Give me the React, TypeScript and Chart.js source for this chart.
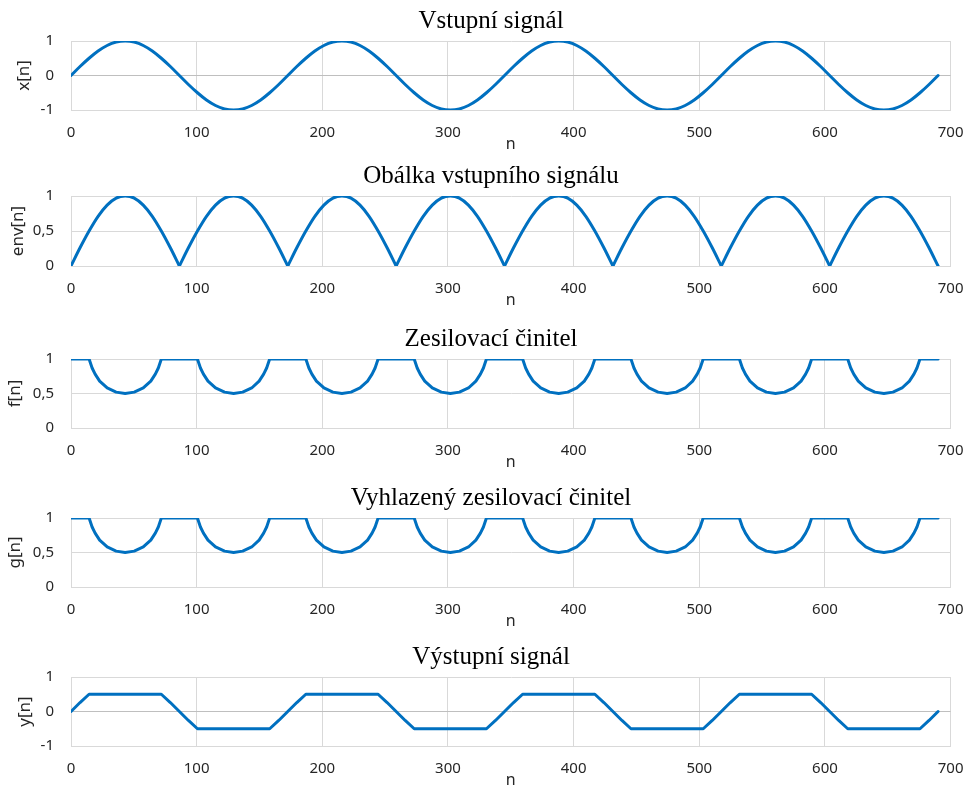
import React, { useEffect, useRef } from 'react';
import { Chart, registerables } from 'chart.js';

Chart.register(...registerables);

// sample positions (n) for x[n], env[n], y[n]
const nGrid = [
  0, 7.19, 14.38, 21.56, 28.75, 35.94, 43.13, 50.31, 57.5, 64.69, 71.88, 79.06,
  86.25, 93.44, 100.63, 107.81, 115, 122.19, 129.38, 136.56, 143.75, 150.94, 158.13, 165.31,
  172.5, 179.69, 186.88, 194.06, 201.25, 208.44, 215.63, 222.81, 230, 237.19, 244.38, 251.56,
  258.75, 265.94, 273.13, 280.31, 287.5, 294.69, 301.88, 309.06, 316.25, 323.44, 330.63, 337.81,
  345, 352.19, 359.38, 366.56, 373.75, 380.94, 388.13, 395.31, 402.5, 409.69, 416.88, 424.06,
  431.25, 438.44, 445.63, 452.81, 460, 467.19, 474.38, 481.56, 488.75, 495.94, 503.13, 510.31,
  517.5, 524.69, 531.88, 539.06, 546.25, 553.44, 560.63, 567.81, 575, 582.19, 589.38, 596.56,
  603.75, 610.94, 618.13, 625.31, 632.5, 639.69, 646.88, 654.06, 661.25, 668.44, 675.63, 682.81,
  690,
];

const xVals = [
  0, 0.26, 0.5, 0.71, 0.87, 0.97, 1, 0.97, 0.87, 0.71, 0.5, 0.26,
  0, -0.26, -0.5, -0.71, -0.87, -0.97, -1, -0.97, -0.87, -0.71, -0.5, -0.26,
  0, 0.26, 0.5, 0.71, 0.87, 0.97, 1, 0.97, 0.87, 0.71, 0.5, 0.26,
  0, -0.26, -0.5, -0.71, -0.87, -0.97, -1, -0.97, -0.87, -0.71, -0.5, -0.26,
  0, 0.26, 0.5, 0.71, 0.87, 0.97, 1, 0.97, 0.87, 0.71, 0.5, 0.26,
  0, -0.26, -0.5, -0.71, -0.87, -0.97, -1, -0.97, -0.87, -0.71, -0.5, -0.26,
  0, 0.26, 0.5, 0.71, 0.87, 0.97, 1, 0.97, 0.87, 0.71, 0.5, 0.26,
  0, -0.26, -0.5, -0.71, -0.87, -0.97, -1, -0.97, -0.87, -0.71, -0.5, -0.26,
  0,
];

const envVals = [
  0, 0.26, 0.5, 0.71, 0.87, 0.97, 1, 0.97, 0.87, 0.71, 0.5, 0.26,
  0, 0.26, 0.5, 0.71, 0.87, 0.97, 1, 0.97, 0.87, 0.71, 0.5, 0.26,
  0, 0.26, 0.5, 0.71, 0.87, 0.97, 1, 0.97, 0.87, 0.71, 0.5, 0.26,
  0, 0.26, 0.5, 0.71, 0.87, 0.97, 1, 0.97, 0.87, 0.71, 0.5, 0.26,
  0, 0.26, 0.5, 0.71, 0.87, 0.97, 1, 0.97, 0.87, 0.71, 0.5, 0.26,
  0, 0.26, 0.5, 0.71, 0.87, 0.97, 1, 0.97, 0.87, 0.71, 0.5, 0.26,
  0, 0.26, 0.5, 0.71, 0.87, 0.97, 1, 0.97, 0.87, 0.71, 0.5, 0.26,
  0, 0.26, 0.5, 0.71, 0.87, 0.97, 1, 0.97, 0.87, 0.71, 0.5, 0.26,
  0,
];

const yVals = [
  0, 0.26, 0.5, 0.5, 0.5, 0.5, 0.5, 0.5, 0.5, 0.5, 0.5, 0.26,
  0, -0.26, -0.5, -0.5, -0.5, -0.5, -0.5, -0.5, -0.5, -0.5, -0.5, -0.26,
  0, 0.26, 0.5, 0.5, 0.5, 0.5, 0.5, 0.5, 0.5, 0.5, 0.5, 0.26,
  0, -0.26, -0.5, -0.5, -0.5, -0.5, -0.5, -0.5, -0.5, -0.5, -0.5, -0.26,
  0, 0.26, 0.5, 0.5, 0.5, 0.5, 0.5, 0.5, 0.5, 0.5, 0.5, 0.26,
  0, -0.26, -0.5, -0.5, -0.5, -0.5, -0.5, -0.5, -0.5, -0.5, -0.5, -0.26,
  0, 0.26, 0.5, 0.5, 0.5, 0.5, 0.5, 0.5, 0.5, 0.5, 0.5, 0.26,
  0, -0.26, -0.5, -0.5, -0.5, -0.5, -0.5, -0.5, -0.5, -0.5, -0.5, -0.26,
  0,
];

// sample positions (n) for the gain curves f[n], g[n]
const nGain = [
  0,
  14.4, 16.8, 19.2, 22.8, 28.8, 35.9, 43.1, 50.3, 57.5, 63.5, 67.1, 69.5, 71.9,
  100.6, 103.0, 105.4, 109.0, 115.0, 122.2, 129.4, 136.6, 143.8, 149.7, 153.3, 155.7, 158.1,
  186.9, 189.3, 191.7, 195.3, 201.3, 208.4, 215.6, 222.8, 230.0, 236.0, 239.6, 242.0, 244.4,
  273.1, 275.5, 277.9, 281.5, 287.5, 294.7, 301.9, 309.1, 316.3, 322.2, 325.8, 328.2, 330.6,
  359.4, 361.8, 364.2, 367.8, 373.8, 380.9, 388.1, 395.3, 402.5, 408.5, 412.1, 414.5, 416.9,
  445.6, 448.0, 450.4, 454.0, 460.0, 467.2, 474.4, 481.6, 488.8, 494.7, 498.3, 500.7, 503.1,
  531.9, 534.3, 536.7, 540.3, 546.3, 553.4, 560.6, 567.8, 575.0, 581.0, 584.6, 587.0, 589.4,
  618.1, 620.5, 622.9, 626.5, 632.5, 639.7, 646.9, 654.1, 661.3, 667.2, 670.8, 673.2, 675.6,
  690,
];

const fVals = [
  1,
  1, 0.87, 0.78, 0.68, 0.58, 0.52, 0.5, 0.52, 0.58, 0.68, 0.78, 0.87, 1,
  1, 0.87, 0.78, 0.68, 0.58, 0.52, 0.5, 0.52, 0.58, 0.68, 0.78, 0.87, 1,
  1, 0.87, 0.78, 0.68, 0.58, 0.52, 0.5, 0.52, 0.58, 0.68, 0.78, 0.87, 1,
  1, 0.87, 0.78, 0.68, 0.58, 0.52, 0.5, 0.52, 0.58, 0.68, 0.78, 0.87, 1,
  1, 0.87, 0.78, 0.68, 0.58, 0.52, 0.5, 0.52, 0.58, 0.68, 0.78, 0.87, 1,
  1, 0.87, 0.78, 0.68, 0.58, 0.52, 0.5, 0.52, 0.58, 0.68, 0.78, 0.87, 1,
  1, 0.87, 0.78, 0.68, 0.58, 0.52, 0.5, 0.52, 0.58, 0.68, 0.78, 0.87, 1,
  1, 0.87, 0.78, 0.68, 0.58, 0.52, 0.5, 0.52, 0.58, 0.68, 0.78, 0.87, 1,
  1,
];

const gVals = [
  1,
  1, 0.87, 0.78, 0.68, 0.58, 0.52, 0.5, 0.52, 0.58, 0.68, 0.78, 0.87, 1,
  1, 0.87, 0.78, 0.68, 0.58, 0.52, 0.5, 0.52, 0.58, 0.68, 0.78, 0.87, 1,
  1, 0.87, 0.78, 0.68, 0.58, 0.52, 0.5, 0.52, 0.58, 0.68, 0.78, 0.87, 1,
  1, 0.87, 0.78, 0.68, 0.58, 0.52, 0.5, 0.52, 0.58, 0.68, 0.78, 0.87, 1,
  1, 0.87, 0.78, 0.68, 0.58, 0.52, 0.5, 0.52, 0.58, 0.68, 0.78, 0.87, 1,
  1, 0.87, 0.78, 0.68, 0.58, 0.52, 0.5, 0.52, 0.58, 0.68, 0.78, 0.87, 1,
  1, 0.87, 0.78, 0.68, 0.58, 0.52, 0.5, 0.52, 0.58, 0.68, 0.78, 0.87, 1,
  1, 0.87, 0.78, 0.68, 0.58, 0.52, 0.5, 0.52, 0.58, 0.68, 0.78, 0.87, 1,
  1,
];

const xTicks = [0, 100, 200, 300, 400, 500, 600, 700];
const bipolarTicks = [-1, 0, 1];
const unipolarTicks = [0, 0.5, 1];

const titles = [
  'Vstupní signál',
  'Obálka vstupního signálu',
  'Zesilovací činitel',
  'Vyhlazený zesilovací činitel',
  'Výstupní signál',
];
const yLabels = ['x[n]', 'env[n]', 'f[n]', 'g[n]', 'y[n]'];

// layout (pixels)
const TITLE_H = 41;
const XAXIS_H = 49;
const panelLayout = [
  { plotTop: 41, plotH: 69, yTitleX: 24.5 },
  { plotTop: 196, plotH: 70, yTitleX: 18 },
  { plotTop: 359, plotH: 69, yTitleX: 15.5 },
  { plotTop: 518, plotH: 69, yTitleX: 15 },
  { plotTop: 677, plotH: 69, yTitleX: 25 },
];

// smooth: monotone spline; splitAtZero: break into arches so cusps stay sharp
const panels = [
  { n: nGrid, v: xVals, ticks: bipolarTicks, smooth: true, splitAtZero: false },
  { n: nGrid, v: envVals, ticks: unipolarTicks, smooth: true, splitAtZero: true },
  { n: nGain, v: fVals, ticks: unipolarTicks, smooth: false, splitAtZero: false },
  { n: nGain, v: gVals, ticks: unipolarTicks, smooth: false, splitAtZero: false },
  { n: nGrid, v: yVals, ticks: bipolarTicks, smooth: false, splitAtZero: false },
];

const LINE = '#0070C0';
const GRID = '#d9d9d9';
const ZERO = '#bfbfbf';
const TEXT = '#262626';
const SANS = '"Noto Sans", "Open Sans", sans-serif';
const SERIF = '"Liberation Serif", "Times New Roman", serif';
const PAD_LEFT = 24;
const Y_TITLE_SIZE = 17;

function buildDatasets(p: typeof panels[number]) {
  const pts = p.n.map((x, i) => ({ x, y: p.v[i] }));
  const groups: { x: number; y: number }[][] = [];
  if (p.splitAtZero) {
    let cur: { x: number; y: number }[] = [];
    pts.forEach((pt, i) => {
      cur.push(pt);
      if (pt.y === 0 && i > 0 && i < pts.length - 1) {
        groups.push(cur);
        cur = [pt];
      }
    });
    if (cur.length > 1) groups.push(cur);
  } else {
    groups.push(pts);
  }
  return groups.map((data) => ({
    data,
    showLine: true,
    borderColor: LINE,
    backgroundColor: LINE,
    borderWidth: 3,
    pointRadius: 0,
    pointHoverRadius: 0,
    cubicInterpolationMode: p.smooth ? 'monotone' : 'default',
    tension: 0,
    fill: false,
    borderJoinStyle: 'round',
    borderCapStyle: 'round',
  }));
}

function Panel({ idx }: { idx: number }) {
  const ref = useRef<HTMLCanvasElement | null>(null);
  const p = panels[idx];
  const lay = panelLayout[idx];
  const h = TITLE_H + lay.plotH + XAXIS_H;

  useEffect(() => {
    if (!ref.current) return;
    const tks = p.ticks;
    const yMin = tks[0];
    const yMax = tks[tks.length - 1];
    const yTitlePad = lay.yTitleX - PAD_LEFT - (Y_TITLE_SIZE * 1.2) / 2;
    const chart = new Chart(ref.current, {
      type: 'scatter',
      data: { datasets: buildDatasets(p) as any },
      options: {
        animation: false,
        responsive: false,
        maintainAspectRatio: false,
        devicePixelRatio: 1,
        layout: { padding: { left: PAD_LEFT, right: 19, top: 0, bottom: 0 } },
        plugins: {
          legend: { display: false },
          tooltip: { enabled: false },
          title: {
            display: true,
            text: titles[idx],
            color: '#000',
            font: { family: SERIF, size: 25, weight: 'normal' as any, lineHeight: 1.2 },
            padding: { top: 6, bottom: 5 },
          },
        },
        scales: {
          x: {
            type: 'linear',
            min: 0,
            max: 700,
            afterBuildTicks: (s: any) => {
              s.ticks = xTicks.map((value) => ({ value }));
            },
            afterFit: (s: any) => {
              s.height = XAXIS_H;
            },
            grid: { color: GRID, lineWidth: 1, drawTicks: false },
            border: { color: GRID, width: 1 },
            ticks: {
              padding: 13.5,
              color: TEXT,
              maxRotation: 0,
              font: { family: SANS, size: 15 },
            },
            title: {
              display: true,
              text: 'n',
              color: TEXT,
              font: { family: SANS, size: 16 },
              padding: { top: 0, bottom: 5.4 },
            },
          },
          y: {
            type: 'linear',
            min: yMin,
            max: yMax,
            afterBuildTicks: (s: any) => {
              s.ticks = tks.map((value) => ({ value }));
            },
            afterFit: (s: any) => {
              s.width = 71 - PAD_LEFT;
            },
            grid: {
              color: (c: any) => (c.tick && c.tick.value === 0 && yMin < 0 ? ZERO : GRID),
              lineWidth: 1,
              drawTicks: false,
            },
            border: { color: GRID, width: 1 },
            ticks: {
              padding: 17,
              color: TEXT,
              font: { family: SANS, size: 15 },
              callback: (v: any) => String(v).replace('.', ','),
            },
            title: {
              display: true,
              text: yLabels[idx],
              color: TEXT,
              font: { family: SANS, size: Y_TITLE_SIZE },
              padding: { top: yTitlePad, bottom: 0 },
            },
          },
        },
      } as any,
    });
    return () => chart.destroy();
  }, [idx]);

  return (
    <canvas
      ref={ref}
      width={977}
      height={h}
      style={{ position: 'absolute', left: 0, top: lay.plotTop - TITLE_H, width: 977, height: h }}
    />
  );
}

export default function App() {
  return (
    <div
      style={{
        position: 'fixed',
        left: 0,
        top: 0,
        width: 977,
        height: 785,
        overflow: 'hidden',
        background: '#fff',
      }}
    >
      {panels.map((_, i) => (
        <Panel key={i} idx={i} />
      ))}
    </div>
  );
}
